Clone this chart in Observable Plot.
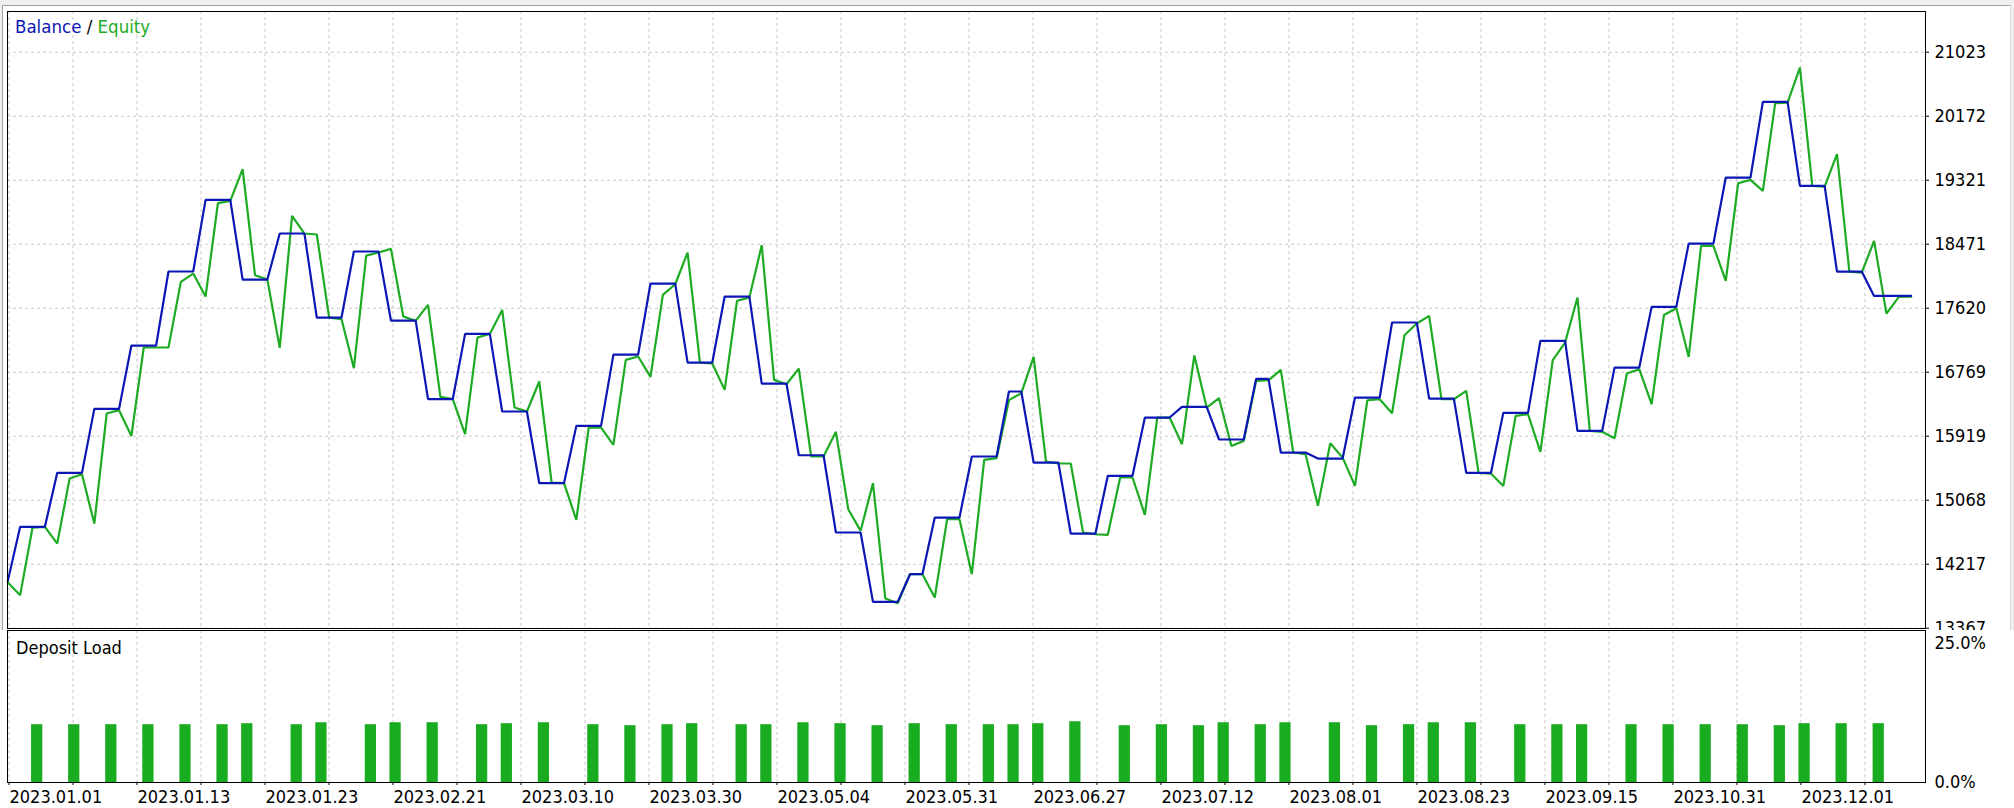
<!DOCTYPE html>
<html>
<head>
<meta charset="utf-8">
<script src="https://cdn.jsdelivr.net/npm/d3@7"></script>
<script src="https://cdn.jsdelivr.net/npm/@observablehq/plot@0.6"></script>
<style>
  html, body { margin: 0; padding: 0; background: #f0f0f0; }
  #wrap { position: relative; width: 2014px; height: 808px; overflow: hidden; background: #f0f0f0; }
  #panel { position: absolute; left: 2px; top: 5px; width: 2007px; height: 820px; background: #fff;
           border-left: 1px solid #a0a0a0; border-top: 1px solid #a0a0a0; border-right: 1px solid #dadada; }
  #top { position: absolute; left: 0; top: 0; width: 2014px; height: 630px; overflow: hidden; }
  #bot { position: absolute; left: 0; top: 630px; width: 2014px; height: 178px; overflow: hidden; }
  #legend { position: absolute; left: 15px; top: 17px; font-family: "DejaVu Sans Condensed", "DejaVu Sans", sans-serif;
            font-stretch: condensed; font-size: 18.5px; line-height: 20px; white-space: pre; }
</style>
</head>
<body>
<div id="wrap">
  <div id="panel"></div>
  <div id="top"></div>
  <div id="bot"></div>
  <div id="legend"><span style="color:#0b17b5">Balance</span><span style="color:#000"> / </span><span style="color:#1dab23">Equity</span></div>
</div>
<script>
// ---------- DATA ----------
// Balance per deal point (155 points)
const balance = [
  13996,
  14714,14714,14714,
  15432,15432,15432,
  16282,16282,16282,
  17124,17124,17124,
  18108,18108,18108,
  19060,19060,19060,
  18001,18001,18001,
  18613,18613,18613,
  17496,17496,17496,
  18374,18374,18374,
  17456,17456,17456,
  16411,16411,16411,
  17279,17279,17279,
  16247,16247,16247,
  15294,15294,15294,
  16056,16056,16056,
  17004,17004,17004,
  17948,17948,17948,
  16898,16898,16898,
  17775,17775,17775,
  16619,16619,16619,
  15666,15666,15666,
  14639,14639,14639,
  13717,13717,13717,
  14085,14085,
  14838,14838,14838,
  15649,15649,15649,
  16513,16513,
  15569,15569,15569,
  14625,14625,14625,
  15392,15392,15392,
  16167,16167,16167,
  16309,16309,16309,
  15875,15875,15875,
  16681,16681,
  15702,15702,15702,
  15622,15622,15622,
  16433,16433,16433,
  17430,17430,17430,
  16419,16419,16419,
  15431,15431,15431,
  16229,16229,16229,
  17186,17186,17186,
  15990,15990,15990,
  16831,16831,16831,
  17638,17638,17638,
  18479,18479,18479,
  19357,19357,19357,
  20363,20363,20363,
  19246,19246,19246,
  18107,18107,18107,
  17784,17784,17784,17784
];

// Equity per deal point (155 points)
const equity = [
  13974,13806,14705,14714,14492,15356,15414,14758,16220,16265,
  15923,17098,17098,17098,17970,18081,17775,19016,19047,19468,
  18059,18001,17093,18848,18613,18600,17496,17474,16823,18320,
  18360,18409,17509,17452,17665,16442,16411,15946,17230,17279,
  17598,16300,16247,16646,15303,15294,14807,16034,16034,15804,
  16934,16978,16708,17798,17939,18360,16898,16885,16535,17718,
  17762,18458,16668,16610,16818,15649,15649,15977,14949,14661,
  15294,13761,13699,14085,14085,13775,14816,14816,14085,15604,
  15627,16398,16491,16974,15582,15556,15556,14639,14616,14608,
  15370,15370,14873,16167,16167,15813,16992,16300,16424,15790,
  15857,16655,16663,16800,15702,15679,14993,15826,15634,15258,
  16397,16410,16224,17261,17417,17518,16410,16410,16521,15431,
  15422,15258,16189,16211,15710,16929,17164,17762,15990,15977,
  15892,16752,16809,16344,17531,17620,16973,18448,18448,17983,
  19281,19326,19179,20345,20354,20819,19246,19237,19667,18107,
  18094,18515,17549,17771,17775
];

// Deposit load bars: deal point index and load (%)
const loadIndex = [
  2,5,8,11,14,17,19,23,25,29,31,34,38,40,43,47,50,53,55,
  59,61,64,67,70,73,76,79,81,83,86,90,93,96,98,101,103,107,110,
  113,115,118,122,125,127,131,134,137,140,143,145,148,151
];
const loadPct = [
  10.36,10.36,10.36,10.36,10.36,10.36,10.54,10.36,10.71,10.36,10.71,10.71,10.36,10.54,10.71,10.36,10.18,10.36,10.54,
  10.36,10.36,10.71,10.54,10.18,10.54,10.36,10.36,10.36,10.54,10.89,10.18,10.36,10.18,10.71,10.36,10.71,10.71,10.18,
  10.36,10.71,10.71,10.36,10.36,10.36,10.36,10.36,10.36,10.36,10.18,10.54,10.54,10.54
];

// Axis tick values / labels
const yTicks = [13367, 14217, 15068, 15919, 16769, 17620, 18471, 19321, 20172, 21023];
const loadTicks = [0, 25];
const dateLabels = [
  "2023.01.01","2023.01.13","2023.01.23","2023.02.21","2023.03.10",
  "2023.03.30","2023.05.04","2023.05.31","2023.06.27","2023.07.12",
  "2023.08.01","2023.08.23","2023.09.15","2023.10.31","2023.12.01"
];

// ---------- CHART ----------
const BLUE = "#0b17b5";
const GREEN = "#1dab23";
const BAR = "#1aac20";
const GRID = "#c8c8c8";
const FONT = '"DejaVu Sans Condensed", "DejaVu Sans", sans-serif';

const idx = d3.range(balance.length);
const xDomain = [-0.025, 155.16];
const xTicks = d3.range(30).map(k => 0.097 + k * 5.178);   // 30 evenly spaced axis divisions
const dateData = dateLabels.map((t, i) => ({t, x: xTicks[2 * i]}));
const bars = loadIndex.map((d, i) => ({i: d, v: loadPct[i]}));

const baseStyle = {background: "transparent", fontFamily: FONT, fontSize: "18px", color: "#000", overflow: "hidden", fontStretch: "condensed"};

const topPlot = Plot.plot({
  width: 2014, height: 630,
  marginLeft: 7, marginRight: 89, marginTop: 11, marginBottom: 2,
  style: baseStyle,
  x: {domain: xDomain, axis: null},
  y: {domain: [13363, 21564], axis: "right", ticks: yTicks, tickFormat: d3.format("d"), tickSize: 3, tickPadding: 6, label: null},
  marks: [
    Plot.ruleY(yTicks, {stroke: GRID, strokeDasharray: "3,3"}),
    Plot.ruleX(xTicks, {stroke: GRID, strokeDasharray: "3,3"}),
    Plot.line(idx, {x: d => d, y: d => equity[d], stroke: GREEN, strokeWidth: 2.2, strokeLinejoin: "miter"}),
    Plot.line(idx, {x: d => d, y: d => balance[d], stroke: BLUE, strokeWidth: 2.2, strokeLinejoin: "miter"}),
    Plot.frame({stroke: "#000"})
  ]
});
document.getElementById("top").appendChild(topPlot);

const botPlot = Plot.plot({
  width: 2014, height: 178,
  marginLeft: 7, marginRight: 89, marginTop: 0, marginBottom: 26,
  style: {...baseStyle, background: "#fff"},
  x: {domain: xDomain, axis: "bottom", ticks: xTicks, tickFormat: () => "", tickSize: 3, label: null},
  y: {domain: [0, 27.24], axis: "right", ticks: loadTicks, tickFormat: d => d.toFixed(1) + "%", tickSize: 0, tickPadding: 9, label: null},
  marks: [
    Plot.ruleX(xTicks, {stroke: GRID, strokeDasharray: "3,3"}),
    Plot.rect(bars, {x1: d => d.i - 0.08, x2: d => d.i + 0.83, y1: 0, y2: d => d.v, fill: BAR}),
    Plot.text(dateData, {x: "x", text: "t", frameAnchor: "bottom", textAnchor: "start", lineAnchor: "middle", dy: 14.7, dx: 0.5, fill: "#000"}),
    Plot.text(["Deposit Load"], {frameAnchor: "top-left", textAnchor: "start", lineAnchor: "top", dx: 8.5, dy: 10.5, fill: "#000"}),
    Plot.frame({stroke: "#000"})
  ]
});
document.getElementById("bot").appendChild(botPlot);
</script>
</body>
</html>
